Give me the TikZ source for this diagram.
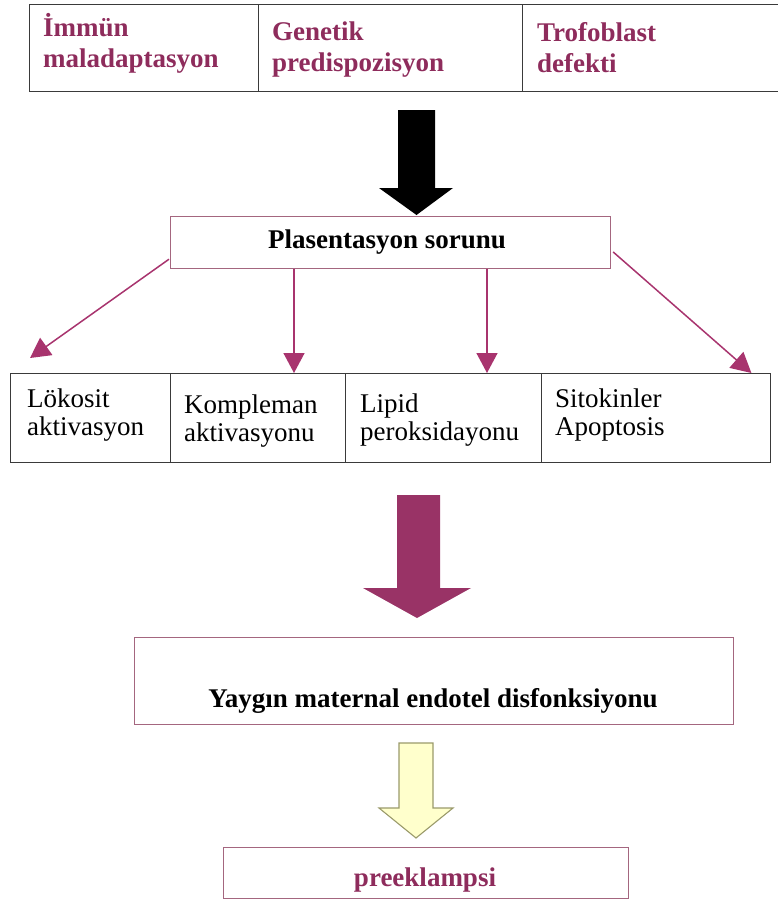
\documentclass[tikz,border=0pt]{standalone}
\usepackage{fontspec}
\setmainfont{Liberation Serif}
\usetikzlibrary{arrows.meta,calc}

\definecolor{plum}{HTML}{993366}
\definecolor{plumtext}{HTML}{8E2C5C}
\definecolor{plumline}{HTML}{A8346E}
\definecolor{boxedge}{HTML}{A4667F}
\definecolor{gridline}{HTML}{3A3A3A}
\definecolor{paleyellow}{HTML}{FFFFCC}
\definecolor{olive}{HTML}{9A9A6A}

\tikzset{
  cell/.style={draw=gridline, line width=1.4pt, anchor=north west, inner sep=0pt},
  framebox/.style={draw=boxedge, line width=1.2pt, fill=white, anchor=north west, inner sep=0pt},
  cause/.style={anchor=base west, inner sep=0pt, text=plumtext,
    font=\fontsize{27}{31}\selectfont\bfseries},
  factor/.style={anchor=base west, inner sep=0pt, text=black,
    font=\fontsize{27}{28}\selectfont},
  flow/.style={draw=plumline, line width=1.5pt,
    -{Triangle[length=20pt,width=21pt]}},
}

\newcommand{\twolines}[2]{\begin{tabular}[t]{@{}l@{}}#1\\#2\end{tabular}}

\begin{document}
\begin{tikzpicture}[x=1pt,y=-1pt]
\useasboundingbox (0,0) rectangle (778,905);

% ---- causes (top table) ----
\node[cell, minimum width=229pt, minimum height=87pt] (immun)  at (29,4)  {};
\node[cell, minimum width=264pt, minimum height=87pt] (genetik) at (258,4) {};
\node[cell, minimum width=262pt, minimum height=87pt] (trofo)  at (522,4) {};
\node[cause] (immunlbl)  at (43,36)  {\twolines{İmmün}{maladaptasyon}};
\node[cause] (genetiklbl) at (272,40) {\twolines{Genetik}{predispozisyon}};
\node[cause] (trofolbl)  at (537,41) {\twolines{Trofoblast}{defekti}};

% ---- black block arrow ----
\fill[black] (398,110) -- (435,110) -- (435,188) -- (453,188) -- (416.5,215)
  -- (379,188) -- (398,188) -- cycle;

% ---- placentation problem ----
\node[framebox, minimum width=440pt, minimum height=52pt] (plac) at (170,216) {};
\node[inner sep=0pt, anchor=base, font=\fontsize{27}{31}\selectfont\bfseries]
  (placlbl) at (387,248) {Plasentasyon sorunu};

% ---- mechanisms (middle table) ----
\node[cell, minimum width=160pt, minimum height=89pt] (lok)   at (10,373)  {};
\node[cell, minimum width=175pt, minimum height=89pt] (komp)  at (170,373) {};
\node[cell, minimum width=196pt, minimum height=89pt] (lipid) at (345,373) {};
\node[cell, minimum width=229pt, minimum height=89pt] (sito)  at (541,373) {};
\node[factor] (loklbl)   at (27,407)  {\twolines{Lökosit}{aktivasyon}};
\node[factor] (komplbl)  at (184,413) {\twolines{Kompleman}{aktivasyonu}};
\node[factor] (lipidlbl) at (360,412) {\twolines{Lipid}{peroksidayonu}};
\node[factor] (sitolbl)  at (555,407) {\twolines{Sitokinler}{Apoptosis}};

% ---- branching arrows ----
\coordinate (lstart) at ($(plac.south west)+(-1,-10)$);
\coordinate (lend)   at (30,358);
\coordinate (rstart) at ($(plac.north east)+(2,36)$);
\coordinate (rend)   at ($(sito.north east)+(-20,0)$);
\draw[flow] (lstart) -- (lend);
\draw[flow] (plac.south -| 294,0) -- (komp.north -| 294,0);
\draw[flow] (plac.south -| 487,0) -- (lipid.north -| 487,0);
\draw[flow] (rstart) -- (rend);

% ---- plum block arrow ----
\fill[plum] (397,495) -- (440,495) -- (440,588) -- (471,588) -- (417,618)
  -- (363,588) -- (397,588) -- cycle;

% ---- endothelial dysfunction ----
\node[framebox, minimum width=599pt, minimum height=87pt] (yaygin) at (134,637) {};
\node[inner sep=0pt, anchor=base, font=\fontsize{27}{31}\selectfont\bfseries]
  (yayginlbl) at (433,707) {Yaygın maternal endotel disfonksiyonu};

% ---- pale yellow block arrow ----
\filldraw[fill=paleyellow, draw=olive, line width=1.1pt, line join=miter]
  (399,743) -- (433,743) -- (433,808) -- (453,808) -- (416,838)
  -- (379,808) -- (399,808) -- cycle;

% ---- outcome ----
\node[framebox, minimum width=405pt, minimum height=51pt] (preek) at (223,847) {};
\node[inner sep=0pt, anchor=base, text=plumtext, font=\fontsize{27}{31}\selectfont\bfseries]
  (preeklbl) at (425,886) {preeklampsi};
\end{tikzpicture}
\end{document}
